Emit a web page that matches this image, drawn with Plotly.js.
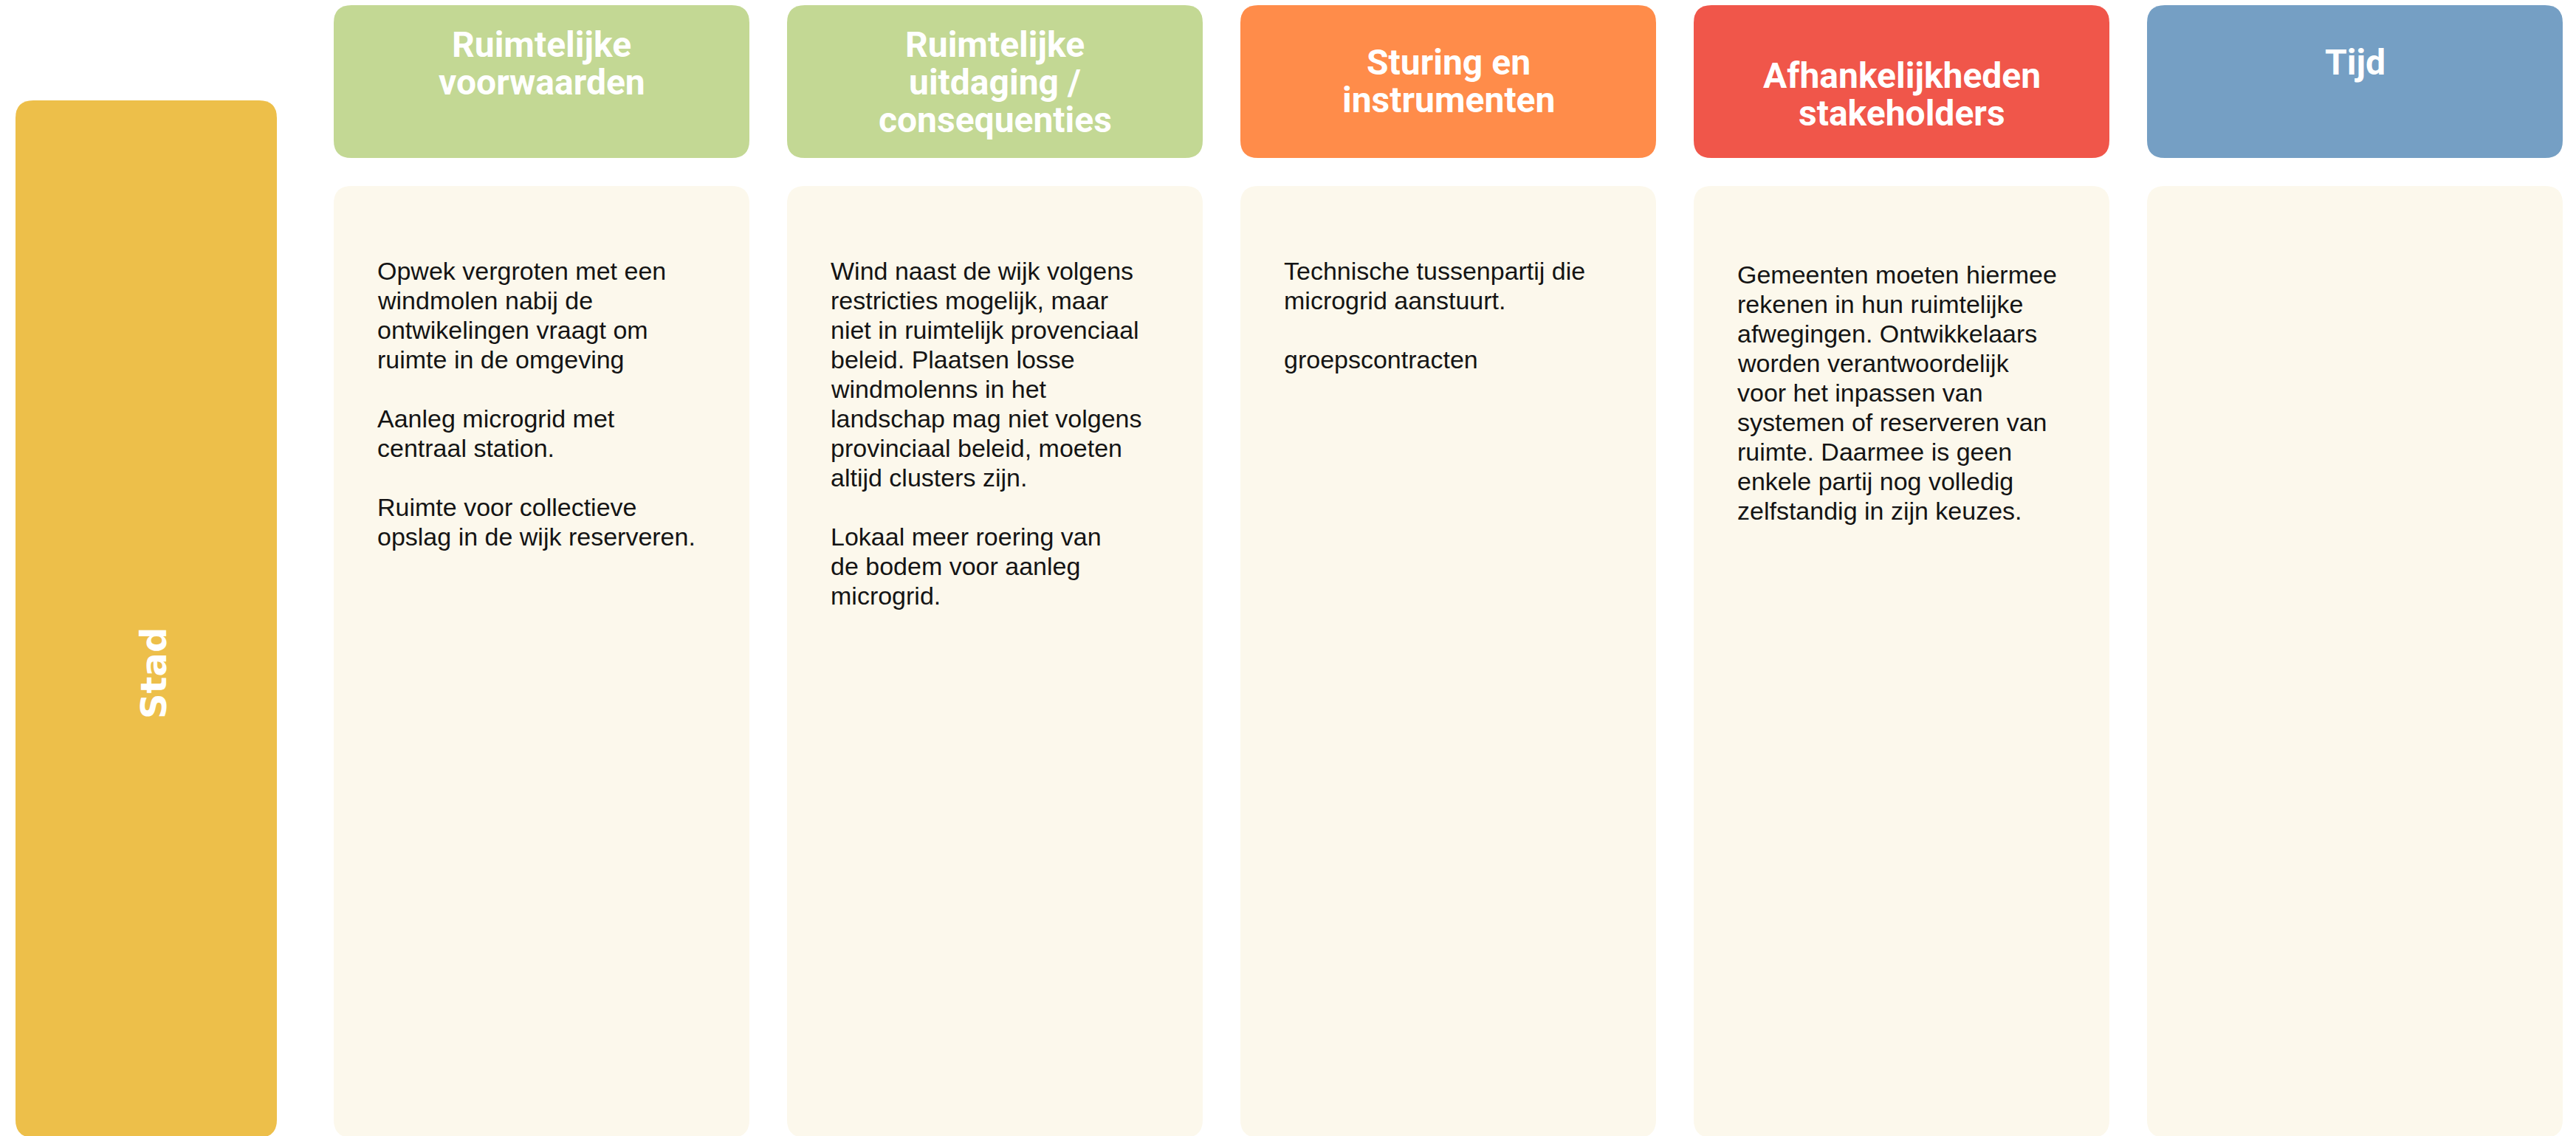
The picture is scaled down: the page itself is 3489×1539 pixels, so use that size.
<!DOCTYPE html>
<html>
<head>
<meta charset="utf-8">
<script src="https://cdn.plot.ly/plotly-3.0.1.min.js"></script>
<style>html,body{margin:0;padding:0;background:#fff;}#chart{width:3489px;height:1539px;}</style>
</head>
<body>
<div id="chart"></div>
<script>
// ---- data ----
const categories = [
  'Ruimtelijke<br>voorwaarden',
  'Ruimtelijke<br>uitdaging /<br>consequenties',
  'Sturing en<br>instrumenten',
  'Afhankelijkheden<br>stakeholders',
  'Tijd'
];
const headerColors = ['#C3D894', '#C3D894', '#FF8C4A', '#F0564A', '#759FC4'];
const rowLabels = ['Stad'];
const rowColors = ['#EDBF4A'];
const cellTexts = [
  'Opwek vergroten met een<br>windmolen nabij de<br>ontwikelingen vraagt om<br>ruimte in de omgeving<br><br>Aanleg microgrid met<br>centraal station.<br><br>Ruimte voor collectieve<br>opslag in de wijk reserveren.',
  'Wind naast de wijk volgens<br>restricties mogelijk, maar<br>niet in ruimtelijk provenciaal<br>beleid. Plaatsen losse<br>windmolenns in het<br>landschap mag niet volgens<br>provinciaal beleid, moeten<br>altijd clusters zijn.<br><br>Lokaal meer roering van<br>de bodem voor aanleg<br>microgrid.',
  'Technische tussenpartij die<br>microgrid aanstuurt.<br><br>groepscontracten',
  'Gemeenten moeten hiermee<br>rekenen in hun ruimtelijke<br>afwegingen. Ontwikkelaars<br>worden verantwoordelijk<br>voor het inpassen van<br>systemen of reserveren van<br>ruimte. Daarmee is geen<br>enkele partij nog volledig<br>zelfstandig in zijn keuzes.',
  ''
];

// ---- layout constants ----
const W = 3489, H = 1539;
const colLeft0 = 452, colW = 563, colStep = 614;
const headTop = 7, headBottom = 214;
const bodyTop = 252, bodyBottom = H + 2;
const rowBox = {x0: 21, x1: 375, y0: 136, y1: H + 2};
const radius = 24;
const headFirstBaseline = [76, 76, 100, 118, 100];
const headLineStep = 51;
const headFont = 48;
const bodyFont = 34;
const bodyLineStep = 40;
const bodyFirstBaseline = [378, 378, 378, 383, 378];
const bodyInset = 57;

function rr(x0, y0, x1, y1, r) {
  return 'M' + (x0 + r) + ',' + y0 +
    ' L' + (x1 - r) + ',' + y0 +
    ' Q' + x1 + ',' + y0 + ' ' + x1 + ',' + (y0 + r) +
    ' L' + x1 + ',' + (y1 - r) +
    ' Q' + x1 + ',' + y1 + ' ' + (x1 - r) + ',' + y1 +
    ' L' + (x0 + r) + ',' + y1 +
    ' Q' + x0 + ',' + y1 + ' ' + x0 + ',' + (y1 - r) +
    ' L' + x0 + ',' + (y0 + r) +
    ' Q' + x0 + ',' + y0 + ' ' + (x0 + r) + ',' + y0 + ' Z';
}

const shapes = [];
const annotations = [];

// row label box
shapes.push({type: 'path', path: rr(rowBox.x0, rowBox.y0, rowBox.x1, rowBox.y1, radius),
  fillcolor: rowColors[0], line: {width: 0}, layer: 'below'});
annotations.push({x: (rowBox.x0 + rowBox.x1) / 2 + 10, y: 912, xref: 'x', yref: 'y',
  text: '<b>' + rowLabels[0] + '</b>', showarrow: false, textangle: -90,
  xanchor: 'center', yanchor: 'middle',
  font: {family: 'DejaVu Sans', size: 48, color: '#ffffff'}});

categories.forEach(function (cat, i) {
  const x0 = colLeft0 + i * colStep, x1 = x0 + colW;
  shapes.push({type: 'path', path: rr(x0, headTop, x1, headBottom, radius),
    fillcolor: headerColors[i], line: {width: 0}, layer: 'below'});
  shapes.push({type: 'path', path: rr(x0, bodyTop, x1, bodyBottom, radius),
    fillcolor: '#FCF8EC', line: {width: 0}, layer: 'below'});
  cat.split('<br>').forEach(function (line, j) {
    const base = headFirstBaseline[i] + j * headLineStep;
    annotations.push({x: (x0 + x1) / 2, y: base - 0.928 * headFont - 1, xref: 'x', yref: 'y',
      text: '<b>' + line + '</b>', showarrow: false, xanchor: 'center', yanchor: 'top',
      font: {family: 'Roboto', size: headFont, color: '#ffffff'}});
  });
  if (cellTexts[i]) {
    cellTexts[i].split('<br>').forEach(function (line, k) {
      if (!line) return;
      const base = bodyFirstBaseline[i] + k * bodyLineStep;
      annotations.push({x: x0 + bodyInset, y: base - 0.905 * bodyFont - 1,
        xref: 'x', yref: 'y', text: line, showarrow: false,
        xanchor: 'left', yanchor: 'top', align: 'left',
        font: {family: 'Liberation Sans', size: bodyFont, color: '#141414'}});
    });
  }
});

const layout = {
  width: W, height: H,
  margin: {l: 0, r: 0, t: 0, b: 0, pad: 0},
  paper_bgcolor: '#ffffff', plot_bgcolor: '#ffffff',
  showlegend: false,
  xaxis: {range: [0, W], visible: false, fixedrange: true},
  yaxis: {range: [H, 0], visible: false, fixedrange: true},
  shapes: shapes,
  annotations: annotations
};

Plotly.newPlot('chart', [], layout, {displayModeBar: false, staticPlot: true});
</script>
</body>
</html>
